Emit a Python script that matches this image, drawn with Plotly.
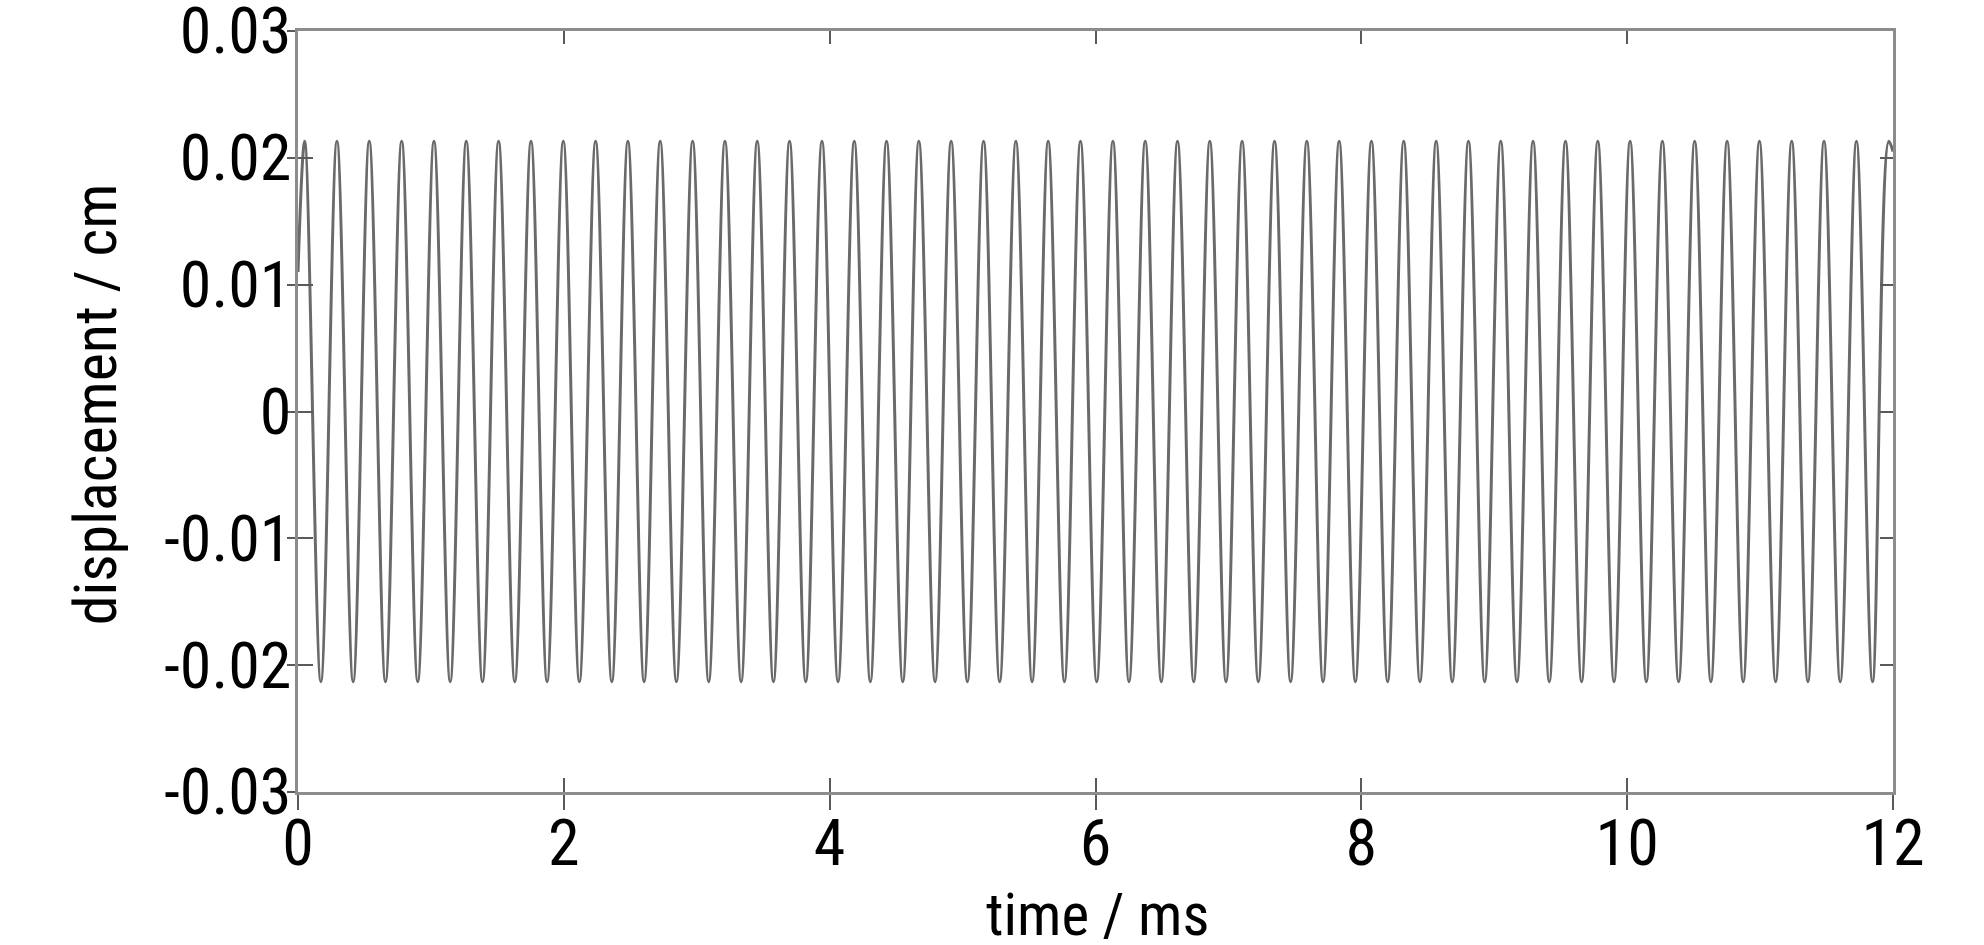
import plotly.graph_objects as go

# Extrema of the displacement trace (time in ms, displacement in cm)
time_ms = [0.000,
    0.050, 0.172, 0.293, 0.415, 0.536, 0.658, 0.780, 0.901, 1.023, 1.145,
    1.266, 1.388, 1.509, 1.631, 1.753, 1.874, 1.996, 2.117, 2.239, 2.361,
    2.482, 2.604, 2.725, 2.847, 2.969, 3.090, 3.212, 3.334, 3.455, 3.577,
    3.698, 3.820, 3.942, 4.063, 4.185, 4.306, 4.428, 4.550, 4.671, 4.793,
    4.914, 5.036, 5.158, 5.279, 5.401, 5.523, 5.644, 5.766, 5.887, 6.009,
    6.131, 6.252, 6.374, 6.495, 6.617, 6.739, 6.860, 6.982, 7.103, 7.225,
    7.347, 7.468, 7.590, 7.712, 7.833, 7.955, 8.076, 8.198, 8.319, 8.441,
    8.563, 8.684, 8.806, 8.928, 9.049, 9.171, 9.292, 9.414, 9.536, 9.657,
    9.779, 9.901, 10.022, 10.144, 10.265, 10.387, 10.508, 10.630, 10.752, 10.873,
    10.995, 11.117, 11.238, 11.360, 11.481, 11.603, 11.725, 11.846, 11.968,
    12.000]

disp_cm = [0.0110,
    0.0213, -0.0213, 0.0213, -0.0213, 0.0213, -0.0213, 0.0213, -0.0213, 0.0213, -0.0213,
    0.0213, -0.0213, 0.0213, -0.0213, 0.0213, -0.0213, 0.0213, -0.0213, 0.0213, -0.0213,
    0.0213, -0.0213, 0.0213, -0.0213, 0.0213, -0.0213, 0.0213, -0.0213, 0.0213, -0.0213,
    0.0213, -0.0213, 0.0213, -0.0213, 0.0213, -0.0213, 0.0213, -0.0213, 0.0213, -0.0213,
    0.0213, -0.0213, 0.0213, -0.0213, 0.0213, -0.0213, 0.0213, -0.0213, 0.0213, -0.0213,
    0.0213, -0.0213, 0.0213, -0.0213, 0.0213, -0.0213, 0.0213, -0.0213, 0.0213, -0.0213,
    0.0213, -0.0213, 0.0213, -0.0213, 0.0213, -0.0213, 0.0213, -0.0213, 0.0213, -0.0213,
    0.0213, -0.0213, 0.0213, -0.0213, 0.0213, -0.0213, 0.0213, -0.0213, 0.0213, -0.0213,
    0.0213, -0.0213, 0.0213, -0.0213, 0.0213, -0.0213, 0.0213, -0.0213, 0.0213, -0.0213,
    0.0213, -0.0213, 0.0213, -0.0213, 0.0213, -0.0213, 0.0213, -0.0213, 0.0213,
    0.0205]

x_range = [0, 12]
y_range = [-0.0300001, 0.0300001]
x_ticks = [0, 2, 4, 6, 8, 10, 12]
y_ticks = [-0.03, -0.02, -0.01, 0, 0.01, 0.02, 0.03]
y_ticklabels = ["-0.03", "-0.02", "-0.01", "0", "0.01", "0.02", "0.03"]
x_title = "time / ms"
y_title = "displacement / cm"

FONT = "Roboto Condensed, Open Sans Condensed, DejaVu Sans Condensed, Liberation Sans, sans-serif"
AXIS_COLOR = "#8c8c8c"
TICK_COLOR = "#5a5a5a"

fig = go.Figure()
fig.add_trace(go.Scatter(
    x=time_ms, y=disp_cm, mode="lines",
    line=dict(color="#6a6a6a", width=3, shape="spline", smoothing=1),
    showlegend=False, hoverinfo="skip"))

# invisible helpers so the extra tick axes are drawn
for xa, ya in (("x2", "y2"), ("x3", "y3")):
    fig.add_trace(go.Scatter(x=x_range, y=y_range, xaxis=xa, yaxis=ya, mode="markers",
                             marker=dict(opacity=0), showlegend=False, hoverinfo="skip"))

common_hidden = dict(showticklabels=False, showline=False, showgrid=False, zeroline=False,
                     automargin=False, tickwidth=2, tickcolor=TICK_COLOR)

fig.update_layout(
    width=1984, height=945,
    margin=dict(l=298, r=91, t=31, b=153, autoexpand=False),
    paper_bgcolor="white", plot_bgcolor="white",
    font=dict(family=FONT, size=64, color="black"),
    xaxis=dict(range=x_range, tickvals=x_ticks, ticks="outside", ticklen=15, tickwidth=2,
               tickcolor=TICK_COLOR, showline=True, linecolor=AXIS_COLOR, linewidth=2.5,
               mirror=True, showgrid=False, zeroline=False, ticklabelstandoff=-22,
               automargin=False, ticklabeloverflow="allow",
               tickfont=dict(family=FONT, size=64)),
    yaxis=dict(range=y_range, tickvals=y_ticks, ticktext=y_ticklabels, ticks="outside",
               ticklen=8, tickwidth=2, tickcolor=TICK_COLOR, showline=True,
               linecolor=AXIS_COLOR, linewidth=2.5, mirror=True, showgrid=False,
               zeroline=False, ticklabelstandoff=-17, automargin=False,
               ticklabeloverflow="allow", tickfont=dict(family=FONT, size=64)),
    xaxis2=dict(range=x_range, tickvals=x_ticks, overlaying="x", anchor="y2", side="bottom",
                ticks="inside", ticklen=14, **common_hidden),
    yaxis2=dict(range=y_range, tickvals=y_ticks, overlaying="y", anchor="x2", side="left",
                ticks="inside", ticklen=15, **common_hidden),
    xaxis3=dict(range=x_range, tickvals=x_ticks, overlaying="x", anchor="y3", side="top",
                ticks="inside", ticklen=13, **common_hidden),
    yaxis3=dict(range=y_range, tickvals=y_ticks, overlaying="y", anchor="x3", side="right",
                ticks="inside", ticklen=13, **common_hidden),
    annotations=[
        dict(text=x_title, xref="paper", yref="paper", x=0.501, y=-0.161,
             xanchor="center", yanchor="middle", showarrow=False,
             font=dict(family=FONT, size=59, color="black")),
        dict(text=y_title, xref="paper", yref="paper", x=-0.127, y=0.51,
             xanchor="center", yanchor="middle", textangle=-90, showarrow=False,
             font=dict(family=FONT, size=60, color="black")),
    ],
)

fig.write_html("out.html", config={"displayModeBar": False},
               post_script="document.body.style.margin='0px';")
